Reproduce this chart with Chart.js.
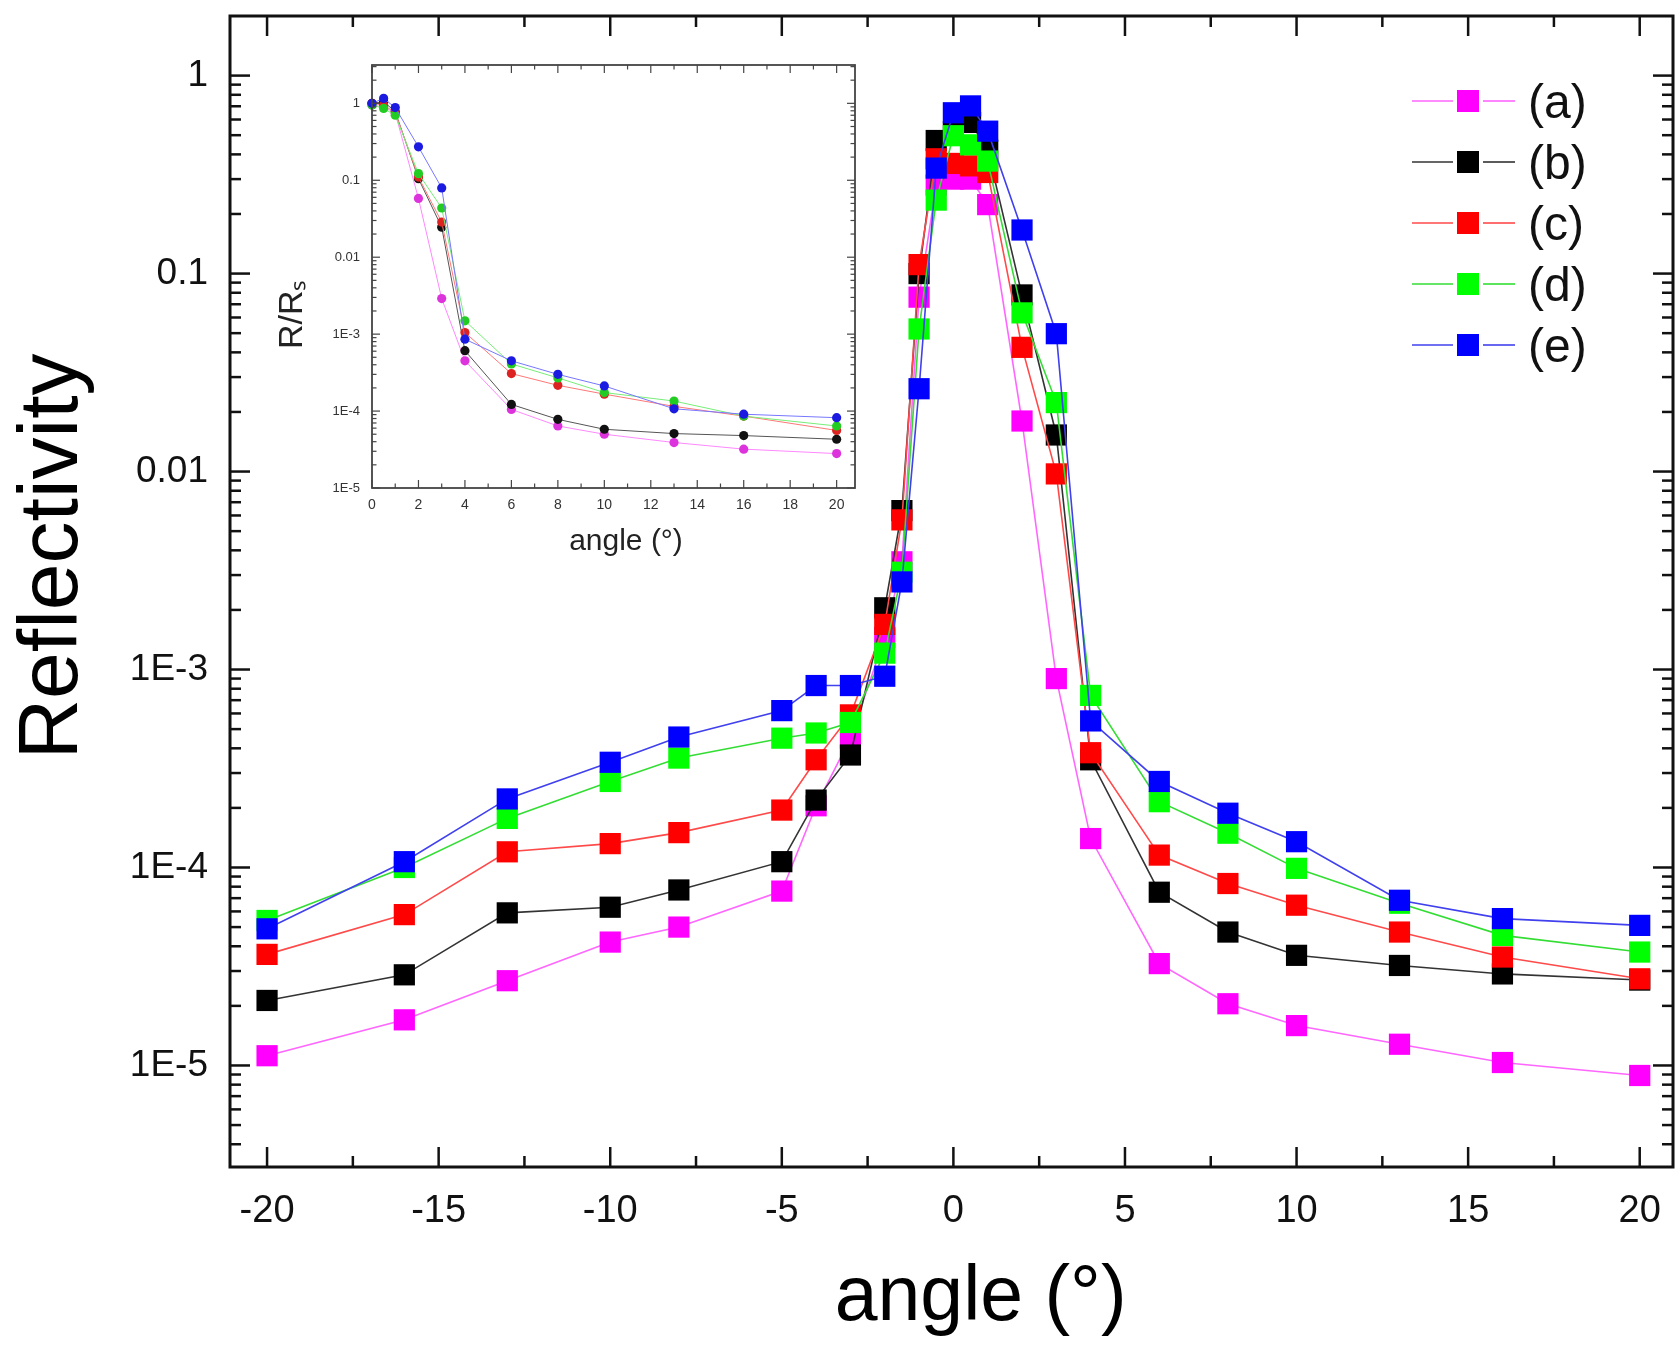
<!DOCTYPE html>
<html>
<head>
<meta charset="utf-8">
<script src="https://cdn.jsdelivr.net/npm/chart.js@4.4.1/dist/chart.umd.min.js"></script>
<style>
  html, body { margin: 0; padding: 0; background: #ffffff; }
  #wrap { position: relative; width: 1676px; height: 1345px; background: #ffffff; }
  #main { position: absolute; left: 0; top: 0; }
  #inset { position: absolute; left: 250px; top: 40px; }
</style>
</head>
<body>
<div id="wrap">
  <canvas id="main" width="1676" height="1345"></canvas>
  <canvas id="inset" width="640" height="530"></canvas>
</div>
<script>
// ---------------- main plot data ----------------
const angles = [-20, -16, -13, -10, -8, -5, -4, -3, -2, -1.5, -1, -0.5, 0, 0.5, 1, 2, 3, 4, 6, 8, 10, 13, 16, 20];
const refA = [1.12e-5, 1.70e-5, 2.68e-5, 4.2e-5, 5.0e-5, 7.6e-5, 2.05e-4, 4.5e-4, 1.45e-3, 3.5e-3, 0.076, 0.28, 0.30, 0.30, 0.223, 0.018, 9.0e-4, 1.40e-4, 3.27e-5, 2.05e-5, 1.59e-5, 1.28e-5, 1.035e-5, 8.9e-6];
const refB = [2.13e-5, 2.87e-5, 5.9e-5, 6.3e-5, 7.7e-5, 1.07e-4, 2.19e-4, 3.7e-4, 2.05e-3, 6.35e-3, 0.10, 0.47, 0.52, 0.58, 0.42, 0.078, 0.0153, 3.5e-4, 7.5e-5, 4.72e-5, 3.6e-5, 3.2e-5, 2.9e-5, 2.7e-5];
const refC = [3.64e-5, 5.78e-5, 1.2e-4, 1.32e-4, 1.5e-4, 1.95e-4, 3.5e-4, 5.9e-4, 1.69e-3, 5.7e-3, 0.111, 0.38, 0.36, 0.35, 0.324, 0.0424, 0.00973, 3.8e-4, 1.155e-4, 8.3e-5, 6.45e-5, 4.72e-5, 3.53e-5, 2.74e-5];
const refD = [5.4e-5, 1.0e-4, 1.77e-4, 2.72e-4, 3.57e-4, 4.5e-4, 4.78e-4, 5.4e-4, 1.21e-3, 3.1e-3, 0.0525, 0.235, 0.497, 0.447, 0.37, 0.0633, 0.0223, 7.4e-4, 2.15e-4, 1.49e-4, 9.9e-5, 6.6e-5, 4.54e-5, 3.74e-5];
const refE = [4.9e-5, 1.07e-4, 2.22e-4, 3.4e-4, 4.56e-4, 6.2e-4, 8.3e-4, 8.3e-4, 9.25e-4, 2.77e-3, 0.0262, 0.341, 0.649, 0.703, 0.524, 0.166, 0.0497, 5.5e-4, 2.72e-4, 1.88e-4, 1.35e-4, 6.83e-5, 5.52e-5, 5.1e-5];

// ---------------- inset data ----------------
const insetAngles = [0, 0.5, 1, 2, 3, 4, 6, 8, 10, 13, 16, 20];
const insA = [0.95, 0.90, 0.75, 0.058, 0.0029, 4.5e-4, 1.05e-4, 6.4e-5, 5.0e-5, 3.9e-5, 3.2e-5, 2.8e-5];
const insB = [1.0, 1.05, 0.78, 0.105, 0.0246, 6.1e-4, 1.22e-4, 7.8e-5, 5.8e-5, 5.1e-5, 4.8e-5, 4.3e-5];
const insC = [1.0, 0.95, 0.76, 0.11, 0.0286, 1.05e-3, 3.07e-4, 2.16e-4, 1.66e-4, 1.15e-4, 8.6e-5, 5.6e-5];
const insD = [0.95, 0.86, 0.70, 0.122, 0.0436, 1.49e-3, 4.1e-4, 2.7e-4, 1.74e-4, 1.35e-4, 8.6e-5, 6.4e-5];
const insE = [1.0, 1.16, 0.88, 0.272, 0.0795, 8.6e-4, 4.5e-4, 3.0e-4, 2.12e-4, 1.07e-4, 9.1e-5, 8.2e-5];

// ---------------- labels / ticks ----------------
const seriesLabels = ['(a)', '(b)', '(c)', '(d)', '(e)'];
const xTickValues = [-20, -15, -10, -5, 0, 5, 10, 15, 20];
const yTickValues = [1e-5, 1e-4, 1e-3, 1e-2, 1e-1, 1];
const yTickLabels = ['1E-5', '1E-4', '1E-3', '0.01', '0.1', '1'];
const insetXTickValues = [0, 2, 4, 6, 8, 10, 12, 14, 16, 18, 20];

const FONT = "'Liberation Sans', Arial, Helvetica, sans-serif";
Chart.defaults.font.family = FONT;
Chart.defaults.color = '#111';

function line(ctx, x1, y1, x2, y2) { ctx.beginPath(); ctx.moveTo(x1, y1); ctx.lineTo(x2, y2); ctx.stroke(); }

function fixBox(prop, size) {
  return s => {
    s[prop] = size;
    s.paddingTop = 0; s.paddingBottom = 0; s.paddingLeft = 0; s.paddingRight = 0;
  };
}

const frameTicks = {
  id: 'frameTicks',
  afterDraw(chart, args, o) {
    const { ctx, chartArea: a, scales: { x, y } } = chart;
    ctx.save();
    ctx.strokeStyle = o.color;
    ctx.lineWidth = o.tickWidth;
    const xs = x.ticks.map(t => t.value);
    const xMinor = [];
    for (let i = 0; i < xs.length - 1; i++) {
      const st = (xs[i + 1] - xs[i]) / o.xSub;
      for (let k = 1; k < o.xSub; k++) xMinor.push(xs[i] + k * st);
    }
    const yMinor = [];
    const lo = Math.floor(Math.log10(y.min)), hi = Math.ceil(Math.log10(y.max));
    for (let n = lo; n < hi; n++) for (let k = 2; k < 10; k++) {
      const v = k * Math.pow(10, n);
      if (v > y.min && v < y.max) yMinor.push(v);
    }
    const vt = (v, len) => { const p = x.getPixelForValue(v); line(ctx, p, a.bottom, p, a.bottom - len); line(ctx, p, a.top, p, a.top + len); };
    const ht = (v, len) => { const p = y.getPixelForValue(v); line(ctx, a.left, p, a.left + len, p); line(ctx, a.right, p, a.right - len, p); };
    xs.forEach(v => vt(v, o.major));
    xMinor.forEach(v => vt(v, o.minor));
    y.ticks.forEach(t => ht(t.value, o.major));
    yMinor.forEach(v => ht(v, o.minor));
    ctx.lineWidth = o.frameWidth;
    ctx.strokeRect(a.left, a.top, a.right - a.left, a.bottom - a.top);
    ctx.restore();
  }
};

const boxLegend = {
  id: 'boxLegend',
  afterDraw(chart, args, o) {
    const ctx = chart.ctx;
    ctx.save();
    chart.data.datasets.forEach((ds, i) => {
      const yy = o.y0 + i * o.dy;
      ctx.strokeStyle = ds.borderColor;
      ctx.lineWidth = ds.borderWidth;
      line(ctx, o.x0, yy, o.xm - o.ms / 2 - o.gap, yy);
      line(ctx, o.xm + o.ms / 2 + o.gap, yy, o.x1, yy);
      ctx.fillStyle = ds.pointBackgroundColor;
      ctx.fillRect(o.xm - o.ms / 2, yy - o.ms / 2, o.ms, o.ms);
      ctx.fillStyle = '#111';
      ctx.font = o.fontSize + 'px ' + FONT;
      ctx.textAlign = 'left';
      ctx.textBaseline = 'middle';
      ctx.fillText(ds.label, o.xt, yy + o.tdy);
    });
    ctx.restore();
  }
};

const markerColors = ['#ff00ff', '#000000', '#ff0000', '#00ff00', '#0000ff'];
const lineColors = ['#ff66ff', '#333333', '#ff4a4a', '#33dd33', '#4040ee'];
const drawOrder = [4, 3, 2, 1, 0];
const mainSeries = [refA, refB, refC, refD, refE];

new Chart(document.getElementById('main'), {
  type: 'line',
  data: {
    datasets: mainSeries.map((vals, i) => ({
      label: seriesLabels[i],
      data: angles.map((a, j) => ({ x: a, y: vals[j] })),
      borderColor: lineColors[i],
      borderWidth: 1.6,
      pointStyle: 'rect',
      pointRadius: 15,
      pointBorderWidth: 0,
      pointBackgroundColor: markerColors[i],
      pointHoverRadius: 15,
      tension: 0,
      clip: false,
      order: drawOrder[i]
    }))
  },
  options: {
    responsive: false,
    animation: false,
    devicePixelRatio: 1,
    layout: { autoPadding: false, padding: { left: 0, top: 16, right: 3, bottom: 0 } },
    plugins: {
      legend: { display: false },
      tooltip: { enabled: false },
      frameTicks: { color: '#111', tickWidth: 2.5, frameWidth: 3, major: 20, minor: 11, xSub: 2 },
      boxLegend: { x0: 1412, x1: 1515, xm: 1468, ms: 22, gap: 4, y0: 101, dy: 61, xt: 1528, tdy: 4, fontSize: 48 }
    },
    scales: {
      x: {
        type: 'linear', min: -21.08, max: 20.97,
        afterBuildTicks: s => { s.ticks = xTickValues.map(v => ({ value: v })); },
        afterFit: fixBox('height', 178),
        grid: { display: false, drawTicks: false },
        border: { display: false },
        ticks: { autoSkip: false, maxRotation: 0, padding: 22, font: { size: 38 }, color: '#111', callback: v => String(v) },
        title: { display: true, text: '\u00a0\u00a0\u2009angle (°)', color: '#000', font: { size: 77, lineHeight: 1.15 }, padding: { top: 0, bottom: 2 } }
      },
      y: {
        type: 'logarithmic', min: 3.07e-6, max: 2.0,
        afterBuildTicks: s => { s.ticks = yTickValues.map(v => ({ value: v })); },
        afterFit: fixBox('width', 230),
        grid: { display: false, drawTicks: false },
        border: { display: false },
        ticks: {
          autoSkip: false, padding: 22, font: { size: 37 }, color: '#111',
          callback: v => { const i = yTickValues.findIndex(t => Math.abs(Math.log10(t / v)) < 1e-6); return i >= 0 ? yTickLabels[i] : ''; }
        },
        title: { display: true, text: '\u00a0\u00a0\u00a0Reflectivity', color: '#000', font: { size: 84, lineHeight: 1.2 }, padding: { top: 3, bottom: 0 } }
      }
    }
  },
  plugins: [frameTicks, boxLegend]
});

const insetMarkerColors = ['#dd33dd', '#111111', '#dd2222', '#22cc22', '#1a1ae0'];
const insetLineColors = ['#ff88ff', '#555555', '#ff7777', '#77ee77', '#7777ff'];
const insetSeries = [insA, insB, insC, insD, insE];

new Chart(document.getElementById('inset'), {
  type: 'line',
  data: {
    datasets: insetSeries.map((vals, i) => ({
      label: seriesLabels[i],
      data: insetAngles.map((a, j) => ({ x: a, y: vals[j] })),
      borderColor: insetLineColors[i],
      borderWidth: 1,
      pointStyle: 'circle',
      pointRadius: 4.6,
      pointBorderWidth: 0,
      pointBackgroundColor: insetMarkerColors[i],
      tension: 0,
      clip: false,
      order: drawOrder[i]
    }))
  },
  options: {
    responsive: false,
    animation: false,
    devicePixelRatio: 1,
    layout: { autoPadding: false, padding: { left: 0, top: 25, right: 35, bottom: 0 } },
    plugins: {
      legend: { display: false },
      tooltip: { enabled: false },
      frameTicks: { color: '#444', tickWidth: 1.2, frameWidth: 1.8, major: 8, minor: 4.5, xSub: 2 }
    },
    scales: {
      x: {
        type: 'linear', min: 0, max: 20.79,
        afterBuildTicks: s => { s.ticks = insetXTickValues.map(v => ({ value: v })); },
        afterFit: fixBox('height', 82),
        grid: { display: false, drawTicks: false },
        border: { display: false },
        ticks: { autoSkip: false, maxRotation: 0, padding: 9, font: { size: 14 }, color: '#333', callback: v => String(v) },
        title: { display: true, text: '\u00a0\u00a0\u00a0angle (°)', color: '#222', font: { size: 30, lineHeight: 1.2 }, padding: { top: 0, bottom: 10 } }
      },
      y: {
        type: 'logarithmic', min: 1e-5, max: 3.15,
        afterBuildTicks: s => { s.ticks = yTickValues.map(v => ({ value: v })); },
        afterFit: fixBox('width', 122),
        grid: { display: false, drawTicks: false },
        border: { display: false },
        ticks: {
          autoSkip: false, padding: 12, font: { size: 13 }, color: '#333',
          callback: v => { const i = yTickValues.findIndex(t => Math.abs(Math.log10(t / v)) < 1e-6); return i >= 0 ? yTickLabels[i] : ''; }
        },
        title: { display: true, text: 'R/R\u209b\u00a0\u00a0\u00a0\u00a0\u00a0\u00a0\u00a0\u00a0', color: '#222', font: { size: 34, lineHeight: 1.2 }, padding: { top: 22, bottom: 0 } }
      }
    }
  },
  plugins: [frameTicks]
});
</script>
</body>
</html>
